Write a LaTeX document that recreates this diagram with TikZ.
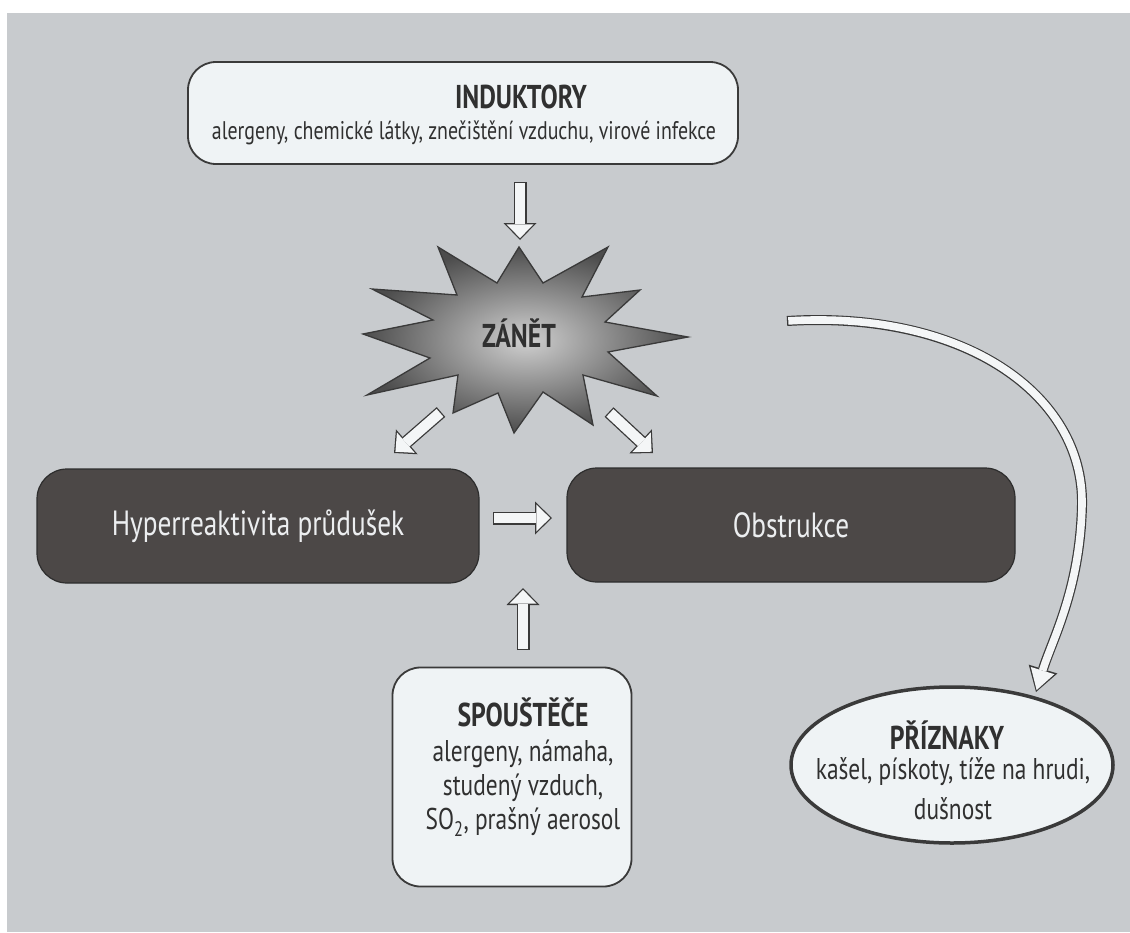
\documentclass[tikz,border=0pt]{standalone}
\usepackage{fontspec}
\setmainfont[FakeStretch=0.78]{PT Sans}
\usetikzlibrary{arrows.meta,shapes.geometric}
\definecolor{bggray}{RGB}{200,203,206}
\definecolor{paper}{RGB}{239,243,245}
\definecolor{edgegray}{RGB}{58,58,58}
\definecolor{inkgray}{RGB}{48,48,48}
\definecolor{slate}{RGB}{76,72,71}
\definecolor{slateedge}{RGB}{45,45,45}
\definecolor{slatetext}{RGB}{236,238,240}
\definecolor{burstlight}{RGB}{208,208,208}
\definecolor{burstdark}{RGB}{76,76,76}
\definecolor{arrowwhite}{RGB}{244,246,247}
\begin{document}
\begin{tikzpicture}[x=1pt,y=-1pt]
        \tikzstyle{every node}=[inner sep=0pt,text=inkgray]
        \tikzstyle{lightbox}=[draw=edgegray,line width=1.8pt,fill=paper,rounded corners=28pt]
        \tikzstyle{darkbox}=[draw=slateedge,line width=1.2pt,fill=slate,rounded corners=30pt,text=slatetext,font=\fontsize{35}{40}\selectfont]
        \tikzstyle{head}=[font=\bfseries\fontsize{33}{36}\selectfont]
        \tikzstyle{body}=[font=\fontsize{30}{34}\selectfont,align=center]
        \tikzstyle{blockarrow}=[line width=13pt,draw=edgegray,-{Triangle[length=17pt,width=33pt,line width=0pt]},
          postaction={draw=arrowwhite,line width=10.4pt,-{Triangle[length=13.8pt,width=27pt,line width=0pt]},shorten >=1.9pt,shorten <=1.3pt}]
        \tikzstyle{bentarrow}=[line width=10pt,draw=edgegray,-{Triangle[length=24pt,width=30pt,line width=0pt]},
          postaction={draw=arrowwhite,line width=7.6pt,-{Triangle[length=20.4pt,width=24.6pt,line width=0pt]},shorten >=2pt,shorten <=1.3pt}]

        \fill[white] (0,0) rectangle (1130,932);
        \useasboundingbox (0,0) rectangle (1130,932);
        \fill[bggray] (7,13) rectangle (1130,932);

        % induktory
        \node(ind)[lightbox,minimum width=550,minimum height=102] at (463,113) {};
        \node(indhead)[head] at (521,97) {INDUKTORY};
        \node(indbody)[body,font=\fontsize{25.5}{32}\selectfont] at (464,133) {alergeny, chemické látky, znečištění vzduchu, virové infekce};

        % zanet
        \shadedraw[inner color=burstlight,outer color=burstdark,draw=edgegray,line width=1.3pt]
          (438,247) \foreach \p in {(497,283),(519,247),(543,283),(608,247),(582,297),(640,290),(605,322),
            (688,337),(608,352),(657,396),(583,375),(593,425),(543,392),(514,433),(498,393),(453,413),
            (458,375),(367,395),(430,358),(363,334),(433,320),(372,289),(457,295)}{ -- \p } -- cycle;
        \node(zan)[head] at (519,333) {ZÁNĚT};

        \node(hyp)[darkbox,minimum width=442,minimum height=114] at (258,526) {Hyperreaktivita průdušek};
        \node(obs)[darkbox,minimum width=448,minimum height=114] at (791,525) {Obstrukce};

        % spoustece
        \node(spo)[lightbox,minimum width=239,minimum height=219] at (512,777) {};
        \node(spohead)[head] at (523,712) {SPOUŠTĚČE};
        \node(spobody)[body] at (523,788) {alergeny, námaha,\\studený vzduch,\\SO\textsubscript{2}, prašný aerosol};

        % priznaky
        \node(pri)[ellipse,draw=edgegray,line width=3.5pt,fill=paper,minimum width=322,minimum height=156] at (952,765) {};
        \node(prihead)[head] at (947,735) {PŘÍZNAKY};
        \node(pribody)[body,font=\fontsize{30}{40}\selectfont] at (953,789) {kašel, pískoty, tíže na hrudi,\\dušnost};

        \coordinate(indout) at (520,182);
        \coordinate(zanin) at (520,240);
        \coordinate(zanl) at (441,412);
        \coordinate(hypin) at (394,453);
        \coordinate(zanr) at (609,412);
        \coordinate(obsin) at (653,453);
        \coordinate(hypout) at (493,518);
        \coordinate(obsl) at (552,518);
        \coordinate(spoout) at (523,650);
        \coordinate(spoin) at (523,588);
        \coordinate(zanout) at (787,321);
        \coordinate(bend) at (1082,505);
        \coordinate(priin) at (1036,692);

        \draw[blockarrow] (indout) -- (zanin);
        \draw[blockarrow] (zanl) -- (hypin);
        \draw[blockarrow] (zanr) -- (obsin);
        \draw[blockarrow] (hypout) -- (obsl);
        \draw[blockarrow] (spoout) -- (spoin);
        \draw[bentarrow] (zanout) .. controls (965,310) and (1084,395) .. (bend)
          .. controls (1080,590) and (1052,640) .. (priin);
\end{tikzpicture}
\end{document}
